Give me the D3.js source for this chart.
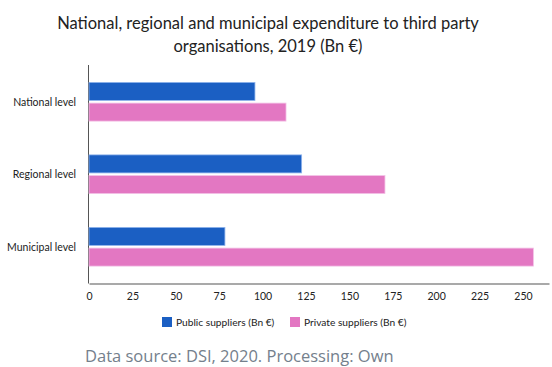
<!DOCTYPE html>
<html>
<head>
<meta charset="utf-8">
<script src="https://cdn.jsdelivr.net/npm/d3@7"></script>
<style>
  body { margin: 0; background: #fff; }
  svg { display: block; }
</style>
</head>
<body>
<div id="chart-area"></div>
<script>
// data
const levels = ["National level", "Regional level", "Municipal level"];
const seriesNames = ["Public suppliers (Bn €)", "Private suppliers (Bn €)"];
const publicValues = [95.6, 122.5, 78.3];
const privateValues = [113.5, 170.5, 256];
const xTicks = [0, 25, 50, 75, 100, 125, 150, 175, 200, 225, 250];
const colors = ["#1b5fc3", "#e377c2"];

const svgWidth = 552, svgHeight = 367;

const svg = d3.select("#chart-area")
  .append("svg")
    .attr("width", svgWidth)
    .attr("height", svgHeight);

// title
const title = svg.append("text")
  .attr("text-anchor", "middle")
  .attr("font-family", "Lato, sans-serif")
  .attr("font-size", "16.5px")
  .attr("fill", "#222");
title.append("tspan").attr("x", 268).attr("y", 29).text("National, regional and municipal expenditure to third party");
title.append("tspan").attr("x", 268).attr("y", 52).text("organisations, 2019 (Bn €)");

// scales
const x = d3.scaleLinear().domain([0, 265]).range([89, 549]);
const y = d3.scaleBand().domain(levels).range([65.5, 283]);
const ySub = d3.scaleBand().domain([0, 1]).range([0, 38.7]).paddingInner(0.13);

// y axis line
svg.append("line")
  .attr("x1", 88.5).attr("x2", 88.5)
  .attr("y1", 65).attr("y2", 283.5)
  .attr("stroke", "#555").attr("stroke-width", 1);

// bars
const rows = levels.map((d, i) => ({ level: d, values: [publicValues[i], privateValues[i]] }));
const groups = svg.selectAll("g.row")
  .data(rows)
  .enter().append("g")
    .attr("class", "row")
    .attr("transform", d => "translate(0," + (y(d.level) + y.bandwidth() / 2 - 19.35) + ")");

groups.selectAll("rect")
  .data(d => d.values)
  .enter().append("rect")
    .attr("x", x(0))
    .attr("y", (d, i) => ySub(i))
    .attr("width", d => x(d) - x(0))
    .attr("height", ySub.bandwidth())
    .attr("fill", (d, i) => colors[i])
    .attr("stroke", (d, i) => i === 0 ? "#8fb3ec" : "#f3c2e6")
    .attr("stroke-width", 0.8);

// y labels
svg.selectAll("text.ylab")
  .data(levels)
  .enter().append("text")
    .attr("class", "ylab")
    .attr("x", 76)
    .attr("y", d => y(d) + y.bandwidth() / 2 + 4)
    .attr("text-anchor", "end")
    .attr("font-family", "Lato, sans-serif")
    .attr("font-size", "10.5px")
    .attr("fill", "#222")
    .text(d => d);

// x axis
const xAxis = svg.append("g")
  .attr("transform", "translate(0,283.5)")
  .call(d3.axisBottom(x).tickValues(xTicks).tickSize(0).tickPadding(9));
xAxis.select(".domain").attr("stroke", "#555").attr("stroke-width", 1.2);
xAxis.selectAll("text")
  .attr("font-family", "Lato, sans-serif")
  .attr("font-size", "10.5px")
  .attr("fill", "#222");

// legend
const legendX = [162, 290];
const legend = svg.selectAll("g.legend")
  .data(seriesNames)
  .enter().append("g")
    .attr("class", "legend")
    .attr("transform", (d, i) => "translate(" + legendX[i] + ",317)");
legend.append("rect")
  .attr("width", 10).attr("height", 10)
  .attr("fill", (d, i) => colors[i]);
legend.append("text")
  .attr("x", 14).attr("y", 9)
  .attr("font-family", "Lato, sans-serif")
  .attr("font-size", "10.2px")
  .attr("fill", "#222")
  .text(d => d);

// footer
svg.append("text")
  .attr("x", 85).attr("y", 362)
  .attr("font-family", "'Open Sans', sans-serif")
  .attr("font-size", "16.5px")
  .attr("fill", "#74808c")
  .text("Data source: DSI, 2020. Processing: Own");
</script>
</body>
</html>
